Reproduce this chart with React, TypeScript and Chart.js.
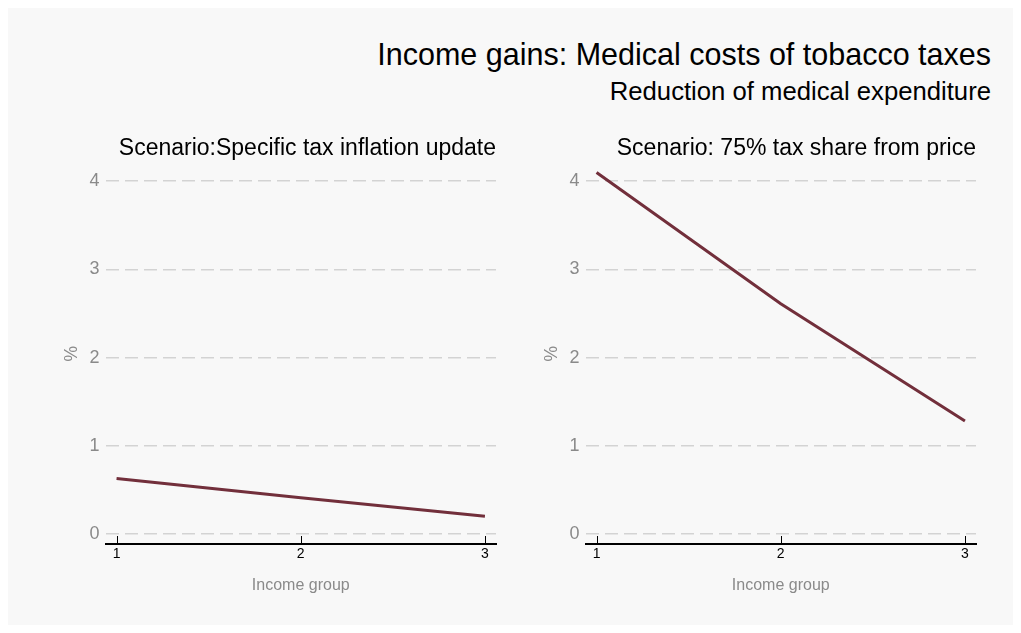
import React, { useEffect, useRef } from "react";
import { Chart, registerables } from "chart.js";

Chart.register(...registerables);

const incomeGroups = [1, 2, 3];
const specificTaxValues = [0.63, 0.41, 0.2];
const shareTaxValues = [4.1, 2.61, 1.28];
const yTickValues = [0, 1, 2, 3, 4];
const xTickValues = [1, 2, 3];

const mainTitle = "Income gains: Medical costs of tobacco taxes";
const subTitle = "Reduction of medical expenditure";
const panelTitles = ["Scenario:Specific tax inflation update", "Scenario: 75% tax share from price"];

const FONT = "'Liberation Sans', Arial, sans-serif";
const LINE_COLOR = "#722f3b";

const innerTicks = {
  id: "innerTicks",
  afterDraw(chart: any) {
    const x = chart.scales.x;
    const ctx = chart.ctx;
    const bottom = chart.chartArea.bottom;
    ctx.save();
    ctx.strokeStyle = "#000";
    ctx.lineWidth = 1;
    x.ticks.forEach((t: any) => {
      const px = Math.round(x.getPixelForValue(t.value)) + 0.5;
      ctx.beginPath();
      ctx.moveTo(px, bottom);
      ctx.lineTo(px, bottom - 8);
      ctx.stroke();
    });
    ctx.restore();
  },
};

function Panel({ title, values, left }: { title: string; values: number[]; left: number }) {
  const ref = useRef<HTMLCanvasElement>(null);
  useEffect(() => {
    const chart = new Chart(ref.current as HTMLCanvasElement, {
      type: "line",
      data: {
        datasets: [
          {
            data: incomeGroups.map((g, i) => ({ x: g, y: values[i] })),
            borderColor: LINE_COLOR,
            borderWidth: 3,
            pointRadius: 0,
            fill: false,
            tension: 0,
          },
        ],
      },
      options: {
        animation: false,
        responsive: false,
        devicePixelRatio: 1,
        layout: { padding: { left: 6.5, right: 9, top: 0, bottom: 8 } },
        plugins: {
          legend: { display: false },
          tooltip: { enabled: false },
          title: {
            display: true,
            text: title,
            align: "end",
            color: "#000",
            font: { family: FONT, size: 23, weight: "normal" },
            padding: { top: 10, bottom: 1 },
          },
        },
        scales: {
          x: {
            type: "linear",
            min: 0.94,
            max: 3.06,
            afterBuildTicks: (s: any) => {
              s.ticks = xTickValues.map((v) => ({ value: v }));
            },
            grid: { display: false, drawTicks: false },
            border: { display: true, color: "#000", width: 2 },
            ticks: {
              color: "#000",
              font: { family: FONT, size: 14 },
              padding: 2,
              maxRotation: 0,
              callback: (v: any) => String(v),
            },
            title: {
              display: true,
              text: "Income group",
              color: "#8a8a8a",
              font: { family: FONT, size: 16 },
              padding: { top: 11, bottom: 0 },
            },
          },
          y: {
            type: "linear",
            min: -0.114,
            max: 4.2,
            afterBuildTicks: (s: any) => {
              s.ticks = yTickValues.map((v) => ({ value: v }));
            },
            grid: {
              color: "#d3d3d3",
              lineWidth: 1.5,
              drawTicks: false,
            },
            border: { display: false, dash: [13, 6] },
            ticks: {
              color: "#8a8a8a",
              font: { family: FONT, size: 18 },
              padding: 6,
              callback: (v: any) => String(v),
            },
            title: {
              display: true,
              text: "%",
              color: "#8a8a8a",
              font: { family: FONT, size: 17.5 },
              padding: { top: 0, bottom: 1 },
            },
          },
        },
      } as any,
      plugins: [innerTicks],
    });
    return () => chart.destroy();
  }, []);
  return (
    <canvas
      ref={ref}
      width={450}
      height={478}
      style={{ position: "absolute", left, top: 117, width: 450, height: 478 }}
    />
  );
}

export default function App() {
  return (
    <div
      style={{
        position: "relative",
        width: 1005,
        height: 617,
        background: "#f8f8f8",
        fontFamily: FONT,
      }}
    >
      <div
        style={{
          position: "absolute",
          right: 22,
          top: 29,
          fontSize: 30.5,
          color: "#000",
          whiteSpace: "nowrap",
        }}
      >
        {mainTitle}
      </div>
      <div
        style={{
          position: "absolute",
          right: 22,
          top: 69,
          fontSize: 25.7,
          color: "#000",
          whiteSpace: "nowrap",
        }}
      >
        {subTitle}
      </div>
      <Panel title={panelTitles[0]} values={specificTaxValues} left={47} />
      <Panel title={panelTitles[1]} values={shareTaxValues} left={527} />
    </div>
  );
}
